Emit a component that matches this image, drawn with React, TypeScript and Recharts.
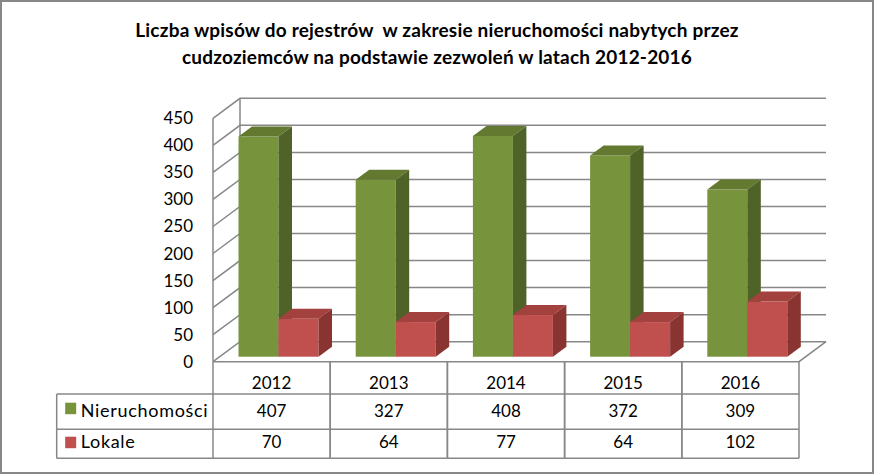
import React from 'react';
import { Bar, BarChart, CartesianGrid, XAxis, YAxis } from 'recharts';

const YEARS = ['2012', '2013', '2014', '2015', '2016'];
const NIERUCHOMOSCI = [407, 327, 408, 372, 309];
const LOKALE = [70, 64, 77, 64, 102];
const Y_TICKS = [0, 50, 100, 150, 200, 250, 300, 350, 400, 450];

const SERIES = [
  { key: 'nieruchomosci', name: 'Nieruchomości', front: '#77933C', top: '#62792F', side: '#4F6228' },
  { key: 'lokale', name: 'Lokale', front: '#C0504D', top: '#A2413E', side: '#8A3432' },
];
const VALUES: Record<string, number[]> = { nieruchomosci: NIERUCHOMOSCI, lokale: LOKALE };

const data = YEARS.map((year, i) => ({
  year,
  nieruchomosci: NIERUCHOMOSCI[i],
  lokale: LOKALE[i],
}));

const FONT = 'Lato, "Liberation Sans", sans-serif';
const LINE = '#878787';

// fake 3d: depth of the floor / walls, and the bars sit in the middle of it
const DEPTH_X = 27;
const DEPTH_Y = -20;
const BAR_DX = 13.5;
const BAR_DY = -10;
const SHIFT_X = 6.75;
const SHIFT_Y = -5;

const bar3d = (s: (typeof SERIES)[number]) => (props: any) => {
  const { x, y, width, height } = props;
  if (x == null || height == null) return <g />;
  const fx = x + SHIFT_X;
  const fy = y + SHIFT_Y;
  const w = width;
  return (
    <g>
      <rect x={fx} y={fy} width={w} height={height} fill={s.front} />
      <polygon
        points={`${fx},${fy} ${fx + BAR_DX},${fy + BAR_DY} ${fx + w + BAR_DX},${fy + BAR_DY} ${fx + w},${fy}`}
        fill={s.top}
      />
      <polygon
        points={`${fx + w},${fy} ${fx + w + BAR_DX},${fy + BAR_DY} ${fx + w + BAR_DX},${fy + height + BAR_DY} ${fx + w},${fy + height}`}
        fill={s.side}
      />
    </g>
  );
};

const gridLine = (props: any) => {
  const { x1, y1, x2, horizontalPoints, y, height } = props;
  const pts: number[] = horizontalPoints && horizontalPoints.length ? horizontalPoints : [y, y + height];
  const top = Math.min(...pts);
  const bottom = Math.max(...pts);
  const isFloor = Math.abs(y1 - bottom) < 0.5;
  const isTop = Math.abs(y1 - top) < 0.5;
  return (
    <g key={props.key}>
      <polyline
        points={`${x1},${y1} ${x1 + DEPTH_X},${y1 + DEPTH_Y} ${x2 + DEPTH_X},${y1 + DEPTH_Y}`}
        fill="none"
        stroke={LINE}
        strokeWidth={1.5}
      />
      {isTop && (
        <line
          x1={x1 + DEPTH_X}
          y1={top + DEPTH_Y}
          x2={x1 + DEPTH_X}
          y2={bottom + DEPTH_Y}
          stroke={LINE}
          strokeWidth={1.5}
        />
      )}
      {isFloor && (
        <polyline
          points={`${x1},${y1} ${x2},${y1} ${x2 + DEPTH_X},${y1 + DEPTH_Y}`}
          fill="none"
          stroke={LINE}
          strokeWidth={1.5}
        />
      )}
    </g>
  );
};

const YTick = (props: any) => {
  const { x, y, payload } = props;
  return (
    <text x={x} y={y + 6} textAnchor="end" fontFamily={FONT} fontSize={17} fill="#000">
      {payload.value}
    </text>
  );
};

// data table under the plot, one column per category tick
const ROW1 = 32.3;
const ROW2 = 67.6;
const ROW3 = 96.6;
const LEGEND_W = 156.3;

const TableColumn = (props: any) => {
  const { x, y, payload, index, width } = props;
  const band = (width || 586) / YEARS.length;
  const left = x - band / 2;
  const right = x + band / 2;
  const txt = { fontFamily: FONT, fontSize: 17, fill: '#000', textAnchor: 'middle' as const };
  return (
    <g>
      <line x1={left} y1={y} x2={left} y2={y + ROW3} stroke={LINE} strokeWidth={1.5} />
      <line x1={right} y1={y} x2={right} y2={y + ROW3} stroke={LINE} strokeWidth={1.5} />
      <line x1={left} y1={y + ROW1} x2={right} y2={y + ROW1} stroke={LINE} strokeWidth={1.5} />
      <line x1={left} y1={y + ROW2} x2={right} y2={y + ROW2} stroke={LINE} strokeWidth={1.5} />
      <line x1={left} y1={y + ROW3} x2={right} y2={y + ROW3} stroke={LINE} strokeWidth={1.5} />
      <text x={x} y={y + 27} {...txt}>
        {payload.value}
      </text>
      {SERIES.map((s, si) => (
        <text key={s.key} x={x} y={y + 55 + si * 31} {...txt}>
          {VALUES[s.key][index]}
        </text>
      ))}
      {index === 0 && (
        <g>
          <line x1={left - LEGEND_W} y1={y + ROW1} x2={left} y2={y + ROW1} stroke={LINE} strokeWidth={1.5} />
          <line x1={left - LEGEND_W} y1={y + ROW2} x2={left} y2={y + ROW2} stroke={LINE} strokeWidth={1.5} />
          <line x1={left - LEGEND_W} y1={y + ROW3} x2={left} y2={y + ROW3} stroke={LINE} strokeWidth={1.5} />
          <line x1={left - LEGEND_W} y1={y + ROW1} x2={left - LEGEND_W} y2={y + ROW3} stroke={LINE} strokeWidth={1.5} />
          {SERIES.map((s, si) => (
            <g key={s.key}>
              <rect x={left - LEGEND_W + 8.5} y={y + 41 + si * 34} width={11} height={11.5} fill={s.front} />
              <text
                x={left - LEGEND_W + 24}
                y={y + 55 + si * 31}
                fontFamily={FONT}
                fontSize={18}
                letterSpacing={0.7}
                fill="#000"
              >
                {s.name}
              </text>
            </g>
          ))}
        </g>
      )}
    </g>
  );
};

export default function App() {
  return (
    <div style={{ position: 'absolute', left: 0, top: 0, width: 874, height: 474, background: '#fff' }}>
      <div
        style={{
          position: 'absolute',
          left: 0,
          top: 0,
          width: 874,
          height: 474,
          boxSizing: 'border-box',
          border: `2px solid ${LINE}`,
        }}
      />
      <div
        style={{
          position: 'absolute',
          left: 0,
          top: 15.5,
          width: 874,
          textAlign: 'center',
          fontFamily: FONT,
          fontWeight: 'bold',
          fontSize: 19,
          letterSpacing: 0.2,
          lineHeight: '27px',
          color: '#000',
          whiteSpace: 'pre',
        }}
      >
        {'Liczba wpisów do rejestrów  w zakresie nieruchomości nabytych przez\ncudzoziemców na podstawie zezwoleń w latach 2012-2016'}
      </div>
      <div style={{ position: 'absolute', left: 0, top: 0 }}>
        <BarChart
          width={874}
          height={474}
          data={data}
          margin={{ top: 118.3, right: 75, bottom: 12.3, left: 0 }}
          barCategoryGap="16%"
          barGap={0}
        >
          <CartesianGrid horizontal={gridLine} vertical={false} />
          <XAxis
            dataKey="year"
            height={100}
            axisLine={false}
            tickLine={false}
            tickSize={0}
            tickMargin={0}
            interval={0}
            tick={<TableColumn />}
          />
          <YAxis
            domain={[0, 450]}
            ticks={Y_TICKS}
            width={213}
            axisLine={{ stroke: LINE, strokeWidth: 1.5 }}
            tickLine={false}
            tickSize={0}
            tickMargin={20}
            interval={0}
            tick={<YTick />}
          />
          {SERIES.map((s) => (
            <Bar key={s.key} dataKey={s.key} name={s.name} fill={s.front} shape={bar3d(s)} isAnimationActive={false} />
          ))}
        </BarChart>
      </div>
    </div>
  );
}
